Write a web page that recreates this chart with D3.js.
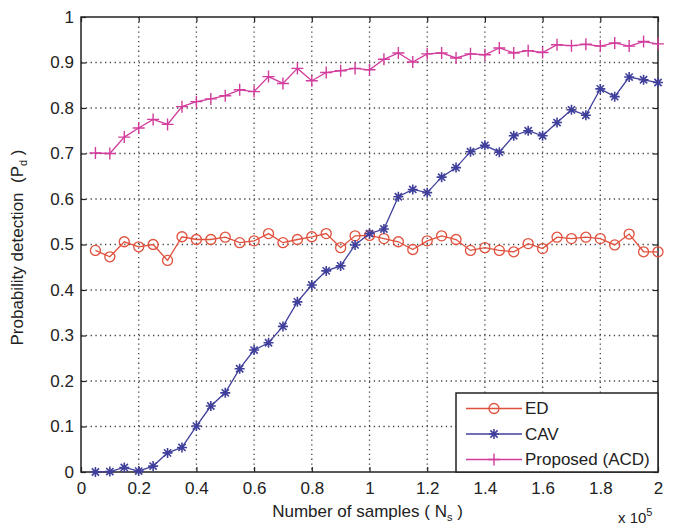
<!DOCTYPE html>
<html>
<head>
<meta charset="utf-8">
<script src="https://cdn.jsdelivr.net/npm/d3@7"></script>
<style>
  body { margin: 0; background: #fff; }
  text { font-family: "Liberation Sans", Arial, sans-serif; fill: #222; white-space: pre; }
</style>
</head>
<body>
<div id="chart"></div>
<script>
/* DATA */
const samples = d3.range(1, 41).map(k => k * 0.05); // x 10^5
const edValues = [0.487, 0.473, 0.506, 0.495, 0.500, 0.465, 0.517, 0.511, 0.511, 0.516,
  0.504, 0.508, 0.524, 0.504, 0.511, 0.517, 0.524, 0.493, 0.519, 0.520,
  0.513, 0.506, 0.489, 0.508, 0.519, 0.511, 0.487, 0.493, 0.487, 0.484,
  0.502, 0.491, 0.516, 0.513, 0.516, 0.513, 0.499, 0.523, 0.484, 0.484];
const cavValues = [0.000, 0.001, 0.010, 0.002, 0.013, 0.042, 0.054, 0.101, 0.145, 0.174,
  0.227, 0.268, 0.284, 0.320, 0.374, 0.411, 0.442, 0.453, 0.499, 0.524,
  0.534, 0.605, 0.621, 0.614, 0.648, 0.669, 0.704, 0.718, 0.703, 0.739,
  0.750, 0.739, 0.768, 0.796, 0.784, 0.842, 0.825, 0.868, 0.862, 0.856];
const acdValues = [0.701, 0.700, 0.736, 0.756, 0.775, 0.764, 0.803, 0.814, 0.820, 0.827,
  0.840, 0.836, 0.869, 0.854, 0.887, 0.860, 0.878, 0.882, 0.887, 0.884,
  0.907, 0.921, 0.901, 0.919, 0.921, 0.910, 0.919, 0.917, 0.932, 0.921,
  0.926, 0.922, 0.939, 0.937, 0.940, 0.936, 0.943, 0.936, 0.946, 0.941];
const seriesNames = ['ED', 'CAV', 'Proposed (ACD)'];
const xTicks = [0, 0.2, 0.4, 0.6, 0.8, 1, 1.2, 1.4, 1.6, 1.8, 2];
const yTicks = [0, 0.1, 0.2, 0.3, 0.4, 0.5, 0.6, 0.7, 0.8, 0.9, 1];

/* CONSTANTS AND GLOBALS */
const W = 678, H = 529;
const margin = { top: 17, right: 20, bottom: 57, left: 81 };
const width = W - margin.left - margin.right;
const height = H - margin.top - margin.bottom;
const colors = ['#e0503c', '#40409c', '#d23c9c'];
const markers = ['circle', 'star', 'plus'];

const svg = d3.select('#chart')
  .append('svg')
  .attr('width', W)
  .attr('height', H)
  .append('g')
  .attr('transform', `translate(${margin.left}, ${margin.top})`);

const x = d3.scaleLinear().domain([0, 2]).range([0, width]);
const y = d3.scaleLinear().domain([0, 1]).range([height, 0]);

// grid
svg.selectAll('.vgrid')
  .data(xTicks.slice(1, -1))
  .enter().append('line')
  .attr('x1', d => x(d)).attr('x2', d => x(d))
  .attr('y1', 0).attr('y2', height)
  .attr('stroke', '#444').attr('stroke-width', 1.3)
  .attr('stroke-dasharray', '1.3,3.5');
svg.selectAll('.hgrid')
  .data(yTicks.slice(1, -1))
  .enter().append('line')
  .attr('x1', 0).attr('x2', width)
  .attr('y1', d => y(d)).attr('y2', d => y(d))
  .attr('stroke', '#444').attr('stroke-width', 1.3)
  .attr('stroke-dasharray', '1.3,3.5');

// axes (ticks inward, MATLAB style)
const fmt = d => String(d);
svg.append('g')
  .attr('transform', `translate(0, ${height})`)
  .call(d3.axisBottom(x).tickValues(xTicks).tickFormat(fmt).tickSizeInner(-5).tickSizeOuter(0).tickPadding(10));
svg.append('g')
  .call(d3.axisTop(x).tickValues(xTicks).tickFormat('').tickSizeInner(-5).tickSizeOuter(0));
svg.append('g')
  .call(d3.axisLeft(y).tickValues(yTicks).tickFormat(fmt).tickSizeInner(-5).tickSizeOuter(0).tickPadding(7));
svg.append('g')
  .attr('transform', `translate(${width}, 0)`)
  .call(d3.axisRight(y).tickValues(yTicks).tickFormat('').tickSizeInner(-5).tickSizeOuter(0));

svg.selectAll('.domain').remove();
svg.selectAll('.tick line').attr('stroke', '#222').attr('stroke-width', 1.2);
svg.selectAll('.tick text')
  .style('font-family', '"Liberation Sans", Arial, sans-serif')
  .style('font-size', '17px')
  .attr('fill', '#222');

svg.append('rect')
  .attr('width', width).attr('height', height)
  .attr('fill', 'none').attr('stroke', '#222').attr('stroke-width', 1.5);

// marker drawing
function drawMarker(g, type, color) {
  if (type === 'circle') {
    g.append('circle').attr('r', 5).attr('fill', 'none')
      .attr('stroke', color).attr('stroke-width', 1.3);
  } else if (type === 'plus') {
    g.append('path').attr('d', 'M-6,0H6M0,-6V6')
      .attr('stroke', color).attr('stroke-width', 1.4);
  } else {
    g.append('path').attr('d', 'M-5,0H5M0,-5V5M-3.6,-3.6L3.6,3.6M-3.6,3.6L3.6,-3.6')
      .attr('stroke', color).attr('stroke-width', 1.6);
  }
}

const allSeries = [edValues, cavValues, acdValues];
const line = d3.line()
  .x((d, i) => x(samples[i]))
  .y(d => y(d));

allSeries.forEach((vals, s) => {
  svg.append('path')
    .datum(vals)
    .attr('d', line)
    .attr('fill', 'none')
    .attr('stroke', colors[s])
    .attr('stroke-width', 1.3);

  svg.selectAll(`.m${s}`)
    .data(vals)
    .enter().append('g')
    .attr('class', `m${s}`)
    .attr('transform', (d, i) => `translate(${x(samples[i])}, ${y(d)})`)
    .each(function () { drawMarker(d3.select(this), markers[s], colors[s]); });
});

// legend
const legend = svg.append('g')
  .attr('transform', `translate(${width - 202}, ${height - 79})`);
legend.append('rect')
  .attr('width', 202).attr('height', 79)
  .attr('fill', '#fff').attr('stroke', '#222').attr('stroke-width', 1.5);

const item = legend.selectAll('.item')
  .data(seriesNames)
  .enter().append('g')
  .attr('class', 'item')
  .attr('transform', (d, i) => `translate(0, ${15.5 + i * 25.5})`);
item.append('line')
  .attr('x1', 10).attr('x2', 66)
  .attr('stroke', (d, i) => colors[i]).attr('stroke-width', 1.3);
item.append('g')
  .attr('transform', 'translate(38, 0)')
  .each(function (d, i) { drawMarker(d3.select(this), markers[i], colors[i]); });
item.append('text')
  .attr('x', 69).attr('dy', '0.35em')
  .style('font-size', '17px')
  .text(d => d);

// axis labels
const xl = svg.append('text')
  .attr('x', width / 2 - 2).attr('y', height + 45)
  .attr('text-anchor', 'middle')
  .style('font-size', '17px');
xl.append('tspan').text('Number of samples ( N');
xl.append('tspan').attr('dy', 4).style('font-size', '11px').text('s');
xl.append('tspan').attr('dy', -4).text(' )');

const yl = svg.append('text')
  .attr('transform', `translate(-58, ${height / 2 + 3}) rotate(-90)`)
  .attr('text-anchor', 'middle')
  .style('font-size', '17px');
yl.append('tspan').text('Probability detection  (P');
yl.append('tspan').attr('dy', 4).style('font-size', '11px').text('d');
yl.append('tspan').attr('dy', -4).text(' )');

const ex = svg.append('text')
  .attr('x', width - 40).attr('y', height + 51)
  .style('font-size', '15px');
ex.append('tspan').text('x 10');
ex.append('tspan').attr('dy', -7).style('font-size', '11px').text('5');
</script>
</body>
</html>
